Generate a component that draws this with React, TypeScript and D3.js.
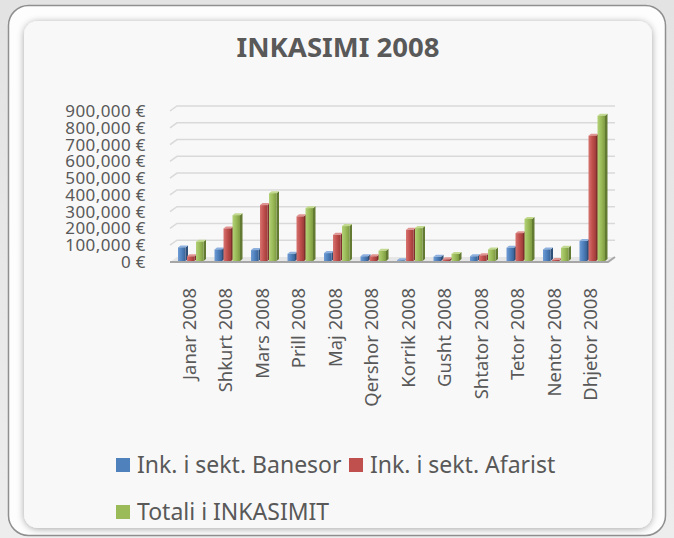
import React from "react";
import * as d3 from "d3";

const months = [
  "Janar 2008",
  "Shkurt 2008",
  "Mars 2008",
  "Prill 2008",
  "Maj 2008",
  "Qershor 2008",
  "Korrik 2008",
  "Gusht 2008",
  "Shtator 2008",
  "Tetor 2008",
  "Nentor 2008",
  "Dhjetor 2008",
];

const banesor = [87000, 75000, 71000, 49000, 53000, 34000, 10000, 31000, 34000, 85000, 75000, 125000];
const afarist = [34000, 200000, 339000, 272000, 162000, 34000, 192000, 16000, 40000, 172000, 12000, 753000];
const totali = [121000, 279000, 410000, 321000, 214000, 67000, 202000, 48000, 75000, 257000, 85000, 872000];

const seriesNames = ["Ink. i sekt. Banesor", "Ink. i sekt. Afarist", "Totali i INKASIMIT"];
const yTicks = [0, 100000, 200000, 300000, 400000, 500000, 600000, 700000, 800000, 900000];

// face / side / top colours for each series
const palette = [
  { light: "#6f9bd3", base: "#4f81bd", dark: "#3a6397", side: "#2f5079", top: "#8db0de" },
  { light: "#d77471", base: "#c0504d", dark: "#9e3c39", side: "#7f2f2d", top: "#e09492" },
  { light: "#b3d177", base: "#9bbb59", dark: "#7e9b41", side: "#627a31", top: "#c2da8f" },
];

const W = 674;
const H = 538;
// 3D depth of the back wall
const DX = 7;
const DY = -5;
const FONT = "'Noto Sans', 'Open Sans', sans-serif";
const TEXT = "#595959";

const App: React.FC = () => {
  const x = d3.scaleBand<string>().domain(months).range([170, 608]).paddingInner(0);
  const x1 = d3.scaleBand<number>().domain([0, 1, 2]).range([8, 35]).paddingInner(0);
  const y = d3.scaleLinear().domain([0, 900000]).range([262, 111]);
  const fmt = (v: number) => d3.format(",")(v) + " €";

  const series = [banesor, afarist, totali];
  const barW = x1.bandwidth() - 1.5;
  const sideW = 2.5;
  const topH = 2;
  const base = y(0) - 1;

  return (
    <svg
      width={W}
      height={H}
      style={{ position: "absolute", left: 0, top: 0, display: "block" }}
    >
      <defs>
        <filter id="shadow" x="-5%" y="-5%" width="110%" height="110%">
          <feDropShadow dx="0" dy="1" stdDeviation="3.5" floodColor="#000" floodOpacity="0.35" />
        </filter>
        <linearGradient id="bg" x1="0" y1="0" x2="0" y2="1">
          <stop offset="0" stopColor="#e3e3e3" />
          <stop offset="1" stopColor="#ededed" />
        </linearGradient>
        {palette.map((p, i) => (
          <linearGradient key={i} id={`bar${i}`} x1="0" y1="0" x2="1" y2="0">
            <stop offset="0" stopColor={p.light} />
            <stop offset="0.5" stopColor={p.base} />
            <stop offset="1" stopColor={p.dark} />
          </linearGradient>
        ))}
      </defs>

      <rect x={0} y={0} width={W} height={H} fill="url(#bg)" />
      <rect x={8.5} y={5.5} width={657} height={530} rx={20} fill="#fdfdfd" stroke="#8f8f8f" strokeWidth={1.5} />
      <rect x={24} y={21} width={628} height={507} rx={14} fill="#f8f8f8" filter="url(#shadow)" />

      <text
        x={338}
        y={57}
        textAnchor="middle"
        fontFamily={FONT}
        fontWeight="bold"
        fontSize={27.5}
        fill={TEXT}
      >
        INKASIMI 2008
      </text>

      {/* back wall gridlines */}
      {yTicks.slice(1).map((t) => (
        <path
          key={t}
          d={`M170,${y(t)}L${170 + DX},${y(t) + DY}L${608 + DX},${y(t) + DY}`}
          fill="none"
          stroke="#d9d9d9"
          strokeWidth={1.5}
        />
      ))}

      {/* floor */}
      <path
        d={`M170,${y(0)}L${170 + DX},${y(0) + DY}L${608 + DX},${y(0) + DY}L608,${y(0)}Z`}
        fill="#e6e6e6"
      />

      {/* bars */}
      {months.map((m, ci) => (
        <g key={m} transform={`translate(${x(m)},0)`}>
          {series.map((s, si) => {
            const v = s[ci];
            const x0 = x1(si) ?? 0;
            const yt = y(v);
            const p = palette[si];
            return (
              <g key={si}>
                <path
                  d={`M${x0 + barW},${yt}L${x0 + barW + sideW},${yt - topH}L${x0 + barW + sideW},${base - topH}L${x0 + barW},${base}Z`}
                  fill={p.side}
                />
                <path
                  d={`M${x0},${yt}L${x0 + sideW},${yt - topH}L${x0 + barW + sideW},${yt - topH}L${x0 + barW},${yt}Z`}
                  fill={p.top}
                />
                <rect x={x0} y={yt} width={barW} height={Math.max(0, base - yt)} fill={`url(#bar${si})`} />
              </g>
            );
          })}
        </g>
      ))}

      <path
        d={`M170,${y(0)}L608,${y(0)}L${608 + DX},${y(0) + DY}`}
        fill="none"
        stroke="#a6a6a6"
        strokeWidth={2}
      />

      {/* y axis labels */}
      {yTicks.map((t) => (
        <text
          key={t}
          x={146}
          y={y(t) + 6}
          textAnchor="end"
          fontFamily={FONT}
          fontSize={17}
          letterSpacing={0.4}
          fill={TEXT}
        >
          {fmt(t)}
        </text>
      ))}

      {/* category labels */}
      {months.map((m) => (
        <text
          key={m}
          transform={`translate(${(x(m) ?? 0) + x.bandwidth() / 2 + 1},288) rotate(-90)`}
          textAnchor="end"
          dy="0.35em"
          fontFamily={FONT}
          fontSize={18.5}
          fill={TEXT}
        >
          {m}
        </text>
      ))}

      {/* legend */}
      {[
        { i: 0, lx: 116, ly: 458 },
        { i: 1, lx: 349, ly: 458 },
        { i: 2, lx: 116, ly: 505 },
      ].map(({ i, lx, ly }) => (
        <g key={i}>
          <rect x={lx} y={ly} width={14} height={14} fill={palette[i].base} />
          <text x={lx + 21} y={ly + 14.5} fontFamily={FONT} fontSize={23} fill={TEXT}>
            {seriesNames[i]}
          </text>
        </g>
      ))}
    </svg>
  );
};

export default App;
